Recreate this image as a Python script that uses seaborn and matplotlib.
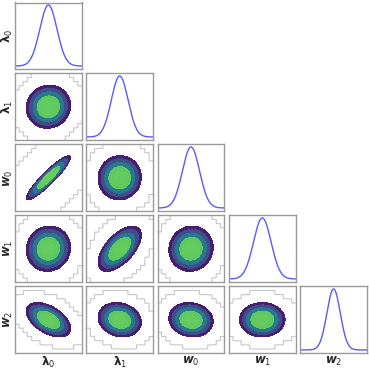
import numpy as np
import matplotlib
matplotlib.use("Agg")
import matplotlib.pyplot as plt
import seaborn as sns

# ---- data (standardised units) ----
labels = [r"$\boldsymbol{\lambda}_0$", r"$\boldsymbol{\lambda}_1$",
          r"$\boldsymbol{w}_0$", r"$\boldsymbol{w}_1$", r"$\boldsymbol{w}_2$"]
means = [0.0, 0.0, 0.0, 0.0, 0.0]
sds = [1.0, 1.0, 1.0, 1.0, 1.0]
half_range = [3.9, 4.0, 3.9, 3.8, 5.0]   # axis half width in sd units
# pairwise correlations (row, col, rho)
corr_pairs = [(1, 0, 0.05), (2, 0, 0.92), (2, 1, 0.02),
              (3, 0, 0.05), (3, 1, 0.6), (3, 2, 0.05),
              (4, 0, -0.5), (4, 1, -0.15), (4, 2, -0.1), (4, 3, 0.0)]
# sparse-tail outline shape per pair (row, col, rho, level)
outline_pairs = [(1, 0, 0.05, 1e-4), (2, 0, 0.6, 1e-7), (2, 1, 0.02, 1e-4),
                 (3, 0, 0.05, 1e-4), (3, 1, 0.45, 1e-4), (3, 2, 0.05, 1e-4),
                 (4, 0, -0.4, 1e-4), (4, 1, -0.15, 1e-4), (4, 2, -0.1, 1e-4),
                 (4, 3, 0.0, 1e-4)]
level_fracs = [0.035, 0.085, 0.2, 0.43, 0.6, 0.8, 1.01]

sns.set_style("white")
plt.rcParams["mathtext.fontset"] = "dejavusans"

n = len(labels)
fig = plt.figure(figsize=(3.69, 3.69), dpi=100)
gs = fig.add_gridspec(n, n, left=15/369, right=367/369, top=1-2.5/369,
                      bottom=1-353/369, wspace=0.067, hspace=0.067)

vir = plt.get_cmap("viridis")
fill_colors = [vir(0.08), vir(0.24), vir(0.40), vir(0.74), vir(0.75), vir(0.76)]
line_color = "#5a5aff"
spine_color = "#9a9a9a"

rho = {(i, j): r for i, j, r in corr_pairs}
outl = {(i, j): (r, lv) for i, j, r, lv in outline_pairs}

def lims(k):
    return means[k] - half_range[k] * sds[k], means[k] + half_range[k] * sds[k]

def dens(xv, yv, i, j, r):
    u = (xv - means[j]) / sds[j]
    v = (yv - means[i]) / sds[i]
    return np.exp(-(u**2 - 2*r*u*v + v**2) / (2*(1 - r**2)))

for i in range(n):
    for j in range(n):
        if j > i:
            continue
        ax = fig.add_subplot(gs[i, j])
        if i == j:
            lo, hi = lims(i)
            x = np.linspace(lo, hi, 300)
            y = np.exp(-0.5 * ((x - means[i]) / sds[i]) ** 2)
            sns.lineplot(x=x, y=y, ax=ax, color=line_color, lw=1.0)
            ax.set_xlim(lo, hi)
            ax.set_ylim(-0.05, 1.04)
        else:
            r = rho[(i, j)]
            xlo, xhi = lims(j)
            ylo, yhi = lims(i)
            gx = np.linspace(xlo, xhi, 240)
            gy = np.linspace(ylo, yhi, 240)
            X, Y = np.meshgrid(gx, gy)
            Z = dens(X, Y, i, j, r)
            ax.contourf(X, Y, Z, levels=level_fracs, colors=fill_colors)
            ax.contour(X, Y, Z, levels=level_fracs[3:6], colors=[vir(0.82)],
                       linewidths=0.3, alpha=0.6)
            # coarse histogram-like outline (bin-centre values on a fine grid)
            ro, lv = outl[(i, j)]
            nb = 16
            bw_x = (xhi - xlo) / nb
            bw_y = (yhi - ylo) / nb
            ix = np.clip(np.floor((X - xlo) / bw_x), 0, nb - 1)
            iy = np.clip(np.floor((Y - ylo) / bw_y), 0, nb - 1)
            BX = xlo + (ix + 0.5) * bw_x
            BY = ylo + (iy + 0.5) * bw_y
            BZ = dens(BX, BY, i, j, ro)
            ax.contour(X, Y, BZ, levels=[lv], colors="#c8c8c8",
                       linewidths=0.8)
            ax.set_xlim(xlo, xhi)
            ax.set_ylim(ylo, yhi)
        ax.set_xticks([])
        ax.set_yticks([])
        ax.set_xlabel("")
        ax.set_ylabel("")
        for s in ax.spines.values():
            s.set_color(spine_color)
            s.set_linewidth(1.0)
        if j == 0:
            ax.set_ylabel(labels[i], fontsize=8.5)
            ax.yaxis.set_label_coords(-0.005, 0.5)
        if i == n - 1:
            ax.set_xlabel(labels[j], fontsize=8.5)
            ax.xaxis.set_label_coords(0.5, -0.025)

fig.savefig("out.png", dpi=100)
